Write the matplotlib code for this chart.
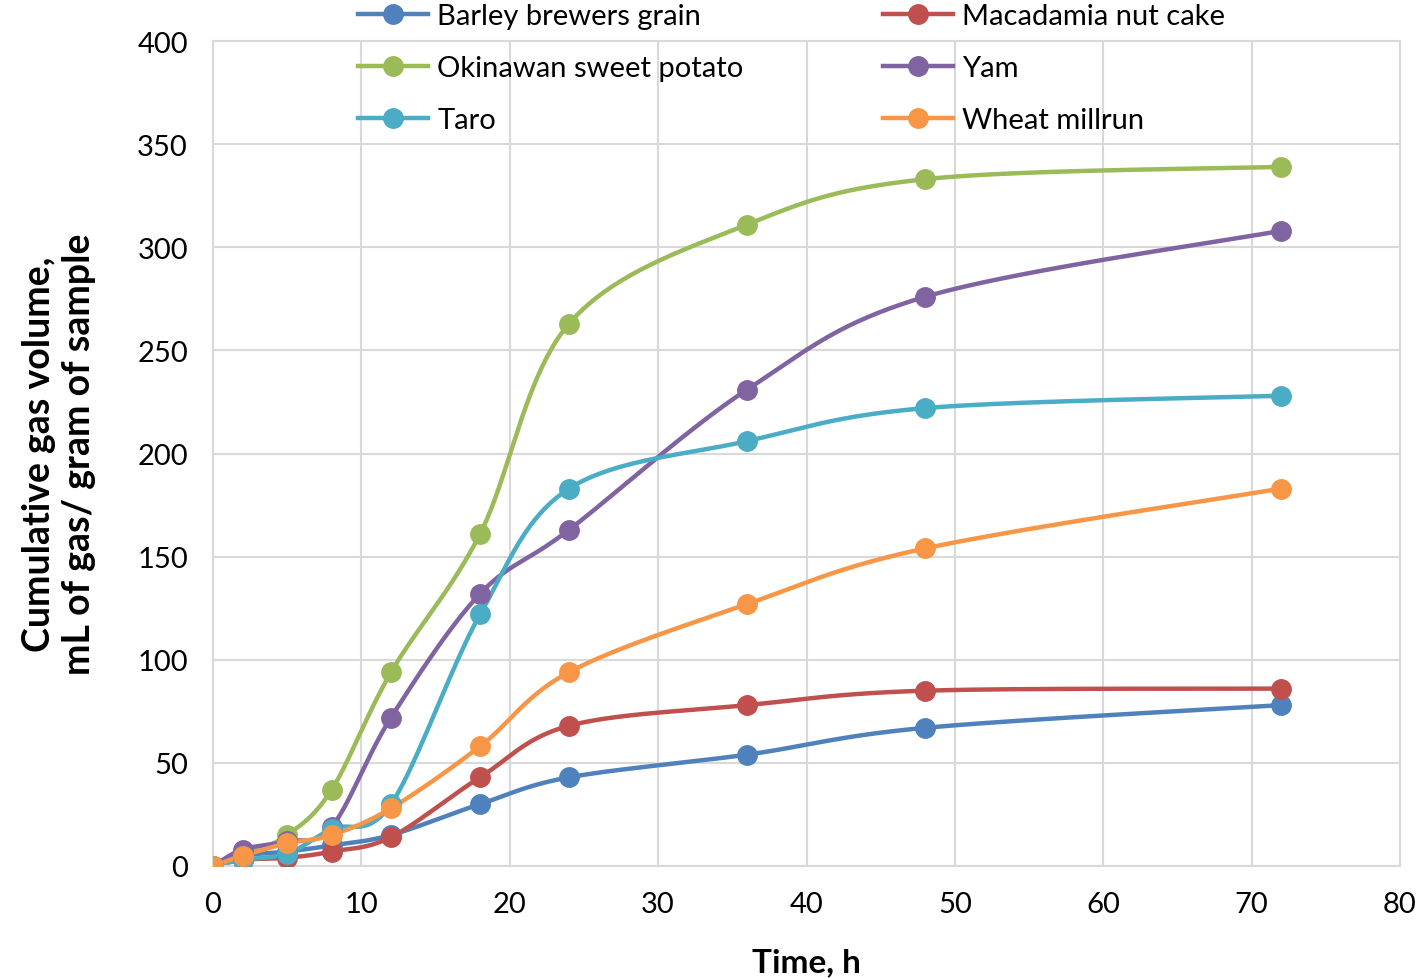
import matplotlib.pyplot as plt
import numpy as np

# Datos
Tiempo = [0, 2, 5, 8, 12, 18, 24, 36, 48, 72]
Barley = [0, 5, 7, 10, 15, 30, 43, 54, 67, 78]
Macadamia = [0, 3, 4, 7, 14, 43, 68, 78, 85, 86]
Okinawan = [0, 5, 15, 37, 94, 161, 263, 311, 333, 339]
Yam = [0, 8, 12, 19, 72, 132, 163, 231, 276, 308]
Taro = [0, 3, 6, 18, 30, 122, 183, 206, 222, 228]
Wheat = [0, 5, 11, 15, 28, 58, 94, 127, 154, 183]

Nombres = ["Barley brewers grain", "Macadamia nut cake", "Okinawan sweet potato",
           "Yam", "Taro", "Wheat millrun"]
Series = [Barley, Macadamia, Okinawan, Yam, Taro, Wheat]
Colores = ["#4F81BD", "#C0504D", "#9BBB59", "#8064A2", "#4BACC6", "#F79646"]


# Curva suavizada tipo Excel (Bezier / Catmull-Rom)
def suavizar(x, y, pasos=40):
    x = np.asarray(x, float)
    y = np.asarray(y, float)
    P = np.column_stack([x, y])
    P = np.vstack([P[0], P, P[-1]])
    out = []
    for i in range(1, len(P) - 2):
        p0, p1, p2, p3 = P[i - 1], P[i], P[i + 1], P[i + 2]
        c1 = p1 + (p2 - p0) / 6
        c2 = p2 - (p3 - p1) / 6
        t = np.linspace(0, 1, pasos)[:, None]
        b = ((1 - t) ** 3) * p1 + 3 * ((1 - t) ** 2) * t * c1 + 3 * (1 - t) * t ** 2 * c2 + t ** 3 * p2
        out.append(b)
    out = np.vstack(out)
    return out[:, 0], out[:, 1]


plt.rcParams['font.family'] = ['Lato', 'DejaVu Sans']
fig = plt.figure(figsize=[14.18, 9.79], dpi=100)
ax = fig.add_axes([213 / 1418, 1 - 867 / 979, (1400 - 213) / 1418, (867 - 42) / 979])

handles = []
for serie, nombre, color in zip(Series, Nombres, Colores):
    xs, ys = suavizar(Tiempo, serie)
    ax.plot(xs, ys, color=color, lw=3.2, zorder=2)
    ax.plot(Tiempo, serie, 'o', color=color, ms=14, zorder=3)
    h, = ax.plot([], [], color=color, lw=3.2, marker='o', ms=14, label=nombre)
    handles.append(h)

ax.set_xlim([0, 80])
ax.set_ylim([0, 400])
ax.set_xticks(range(0, 81, 10))
ax.set_yticks(range(0, 401, 50))
ax.grid(color="#D9D9D9", lw=1.5)
ax.set_axisbelow(True)
for s in ax.spines.values():
    s.set_color("#D9D9D9")
    s.set_linewidth(1.5)
ax.tick_params(length=0, labelsize=21, pad=18)
ax.set_xlabel("Time, h", fontsize=24, fontweight='bold', labelpad=22)
ax.set_ylabel("Cumulative gas volume,\nmL of gas/ gram of sample", fontsize=27,
              fontweight='bold', labelpad=30, linespacing=1.2)

orden = [0, 2, 4, 1, 3, 5]
fig.legend([handles[i] for i in orden], [Nombres[i] for i in orden], ncol=2,
           loc='upper left', bbox_to_anchor=(357 / 1418, 1 - 3 / 979), frameon=False,
           fontsize=21, handlelength=2.4, handletextpad=0.3, columnspacing=4.8,
           labelspacing=0.88, borderaxespad=0.0, borderpad=0.05)

plt.savefig("out.png", dpi=100)
